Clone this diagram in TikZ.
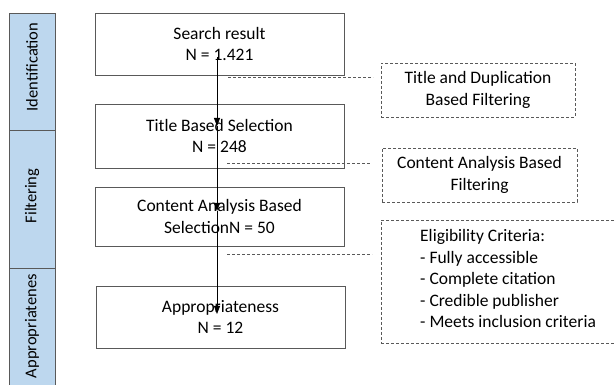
\documentclass[tikz,border=0pt]{standalone}
\usepackage{fontspec}
\setmainfont{Carlito}
\usetikzlibrary{arrows.meta}
\definecolor{barblue}{HTML}{BDD7EE}
\definecolor{edgegrey}{HTML}{595959}
\begin{document}
\begin{tikzpicture}[x=1pt,y=-1pt,
  txt/.style={font=\fontsize{17.5}{21.5}\selectfont},
  stage/.style={draw=edgegrey,line width=0.9pt,minimum width=249pt,align=center,txt,inner sep=0pt},
  note/.style={draw=edgegrey,dashed,dash pattern=on 3pt off 2pt,line width=0.7pt,align=center,txt,inner sep=0pt},
  guide/.style={draw=edgegrey,dash pattern=on 3pt off 2pt,line width=0.7pt},
  flow/.style={draw=black,line width=0.8pt,-{Triangle[width=6pt,length=8pt]}},
  phase/.style={draw=edgegrey,fill=barblue,line width=0.8pt},
  phaselabel/.style={rotate=90,font=\fontsize{16.5}{20}\selectfont,inner sep=0pt}]
\useasboundingbox (0,0) rectangle (614,385);
\clip (0,0) rectangle (614,385);

% phase bar on the left
\path[phase] (9,13) rectangle (55,130);
\path[phase] (9,130) rectangle (55,268);
\path[phase] (9,268) rectangle (55,420);
\node[phaselabel] (pid) at (32,67) {Identification};
\node[phaselabel] (pfi) at (32,196) {Filtering};
\node[phaselabel,anchor=east] (pap) at (32,274) {Appropriatenes};

% main stages
\node[stage,minimum height=62pt] (b1) at (219.5,44) {Search result\\N = 1.421};
\node[stage,minimum height=64pt] (b2) at (219.5,136) {Title Based Selection\\N = 248};
\node[stage,minimum height=59pt] (b3) at (219.5,216.5) {Content Analysis Based\\SelectionN = 50};
\node[stage,minimum height=62pt] (b4) at (220.5,317) {Appropriateness\\N = 12};

% filtering notes
\node[note,minimum width=194pt,minimum height=54pt] (n1) at (478,90) {Title and Duplication\\Based Filtering};
\node[note,minimum width=195pt,minimum height=54pt] (n2) at (479.5,175) {Content Analysis Based\\Filtering};
\node[note,minimum width=250pt,minimum height=123pt] (n3) at (506,281.5) {};
\node[txt,align=left,anchor=north west,inner sep=0pt] (n3t) at (420,229.5)
  {Eligibility Criteria:\\- Fully accessible\\- Complete citation\\- Credible publisher\\- Meets inclusion criteria};

% flow arrows
\coordinate (s1) at (217,57);
\coordinate (t1) at (217,126);
\coordinate (t2) at (217,211);
\coordinate (t3) at (217,314);
\draw[flow] (s1) -- (t1);
\draw[flow] (t1) -- (t2);
\draw[flow] (t2) -- (t3);

% dashed leaders towards the notes
\coordinate (g1a) at (228,77);  \coordinate (g1b) at (373,77);
\coordinate (g2a) at (227,163); \coordinate (g2b) at (370,163);
\coordinate (g3a) at (227,254); \coordinate (g3b) at (372,254);
\draw[guide] (g1a) -- (g1b);
\draw[guide] (g2a) -- (g2b);
\draw[guide] (g3a) -- (g3b);
\end{tikzpicture}
\end{document}
